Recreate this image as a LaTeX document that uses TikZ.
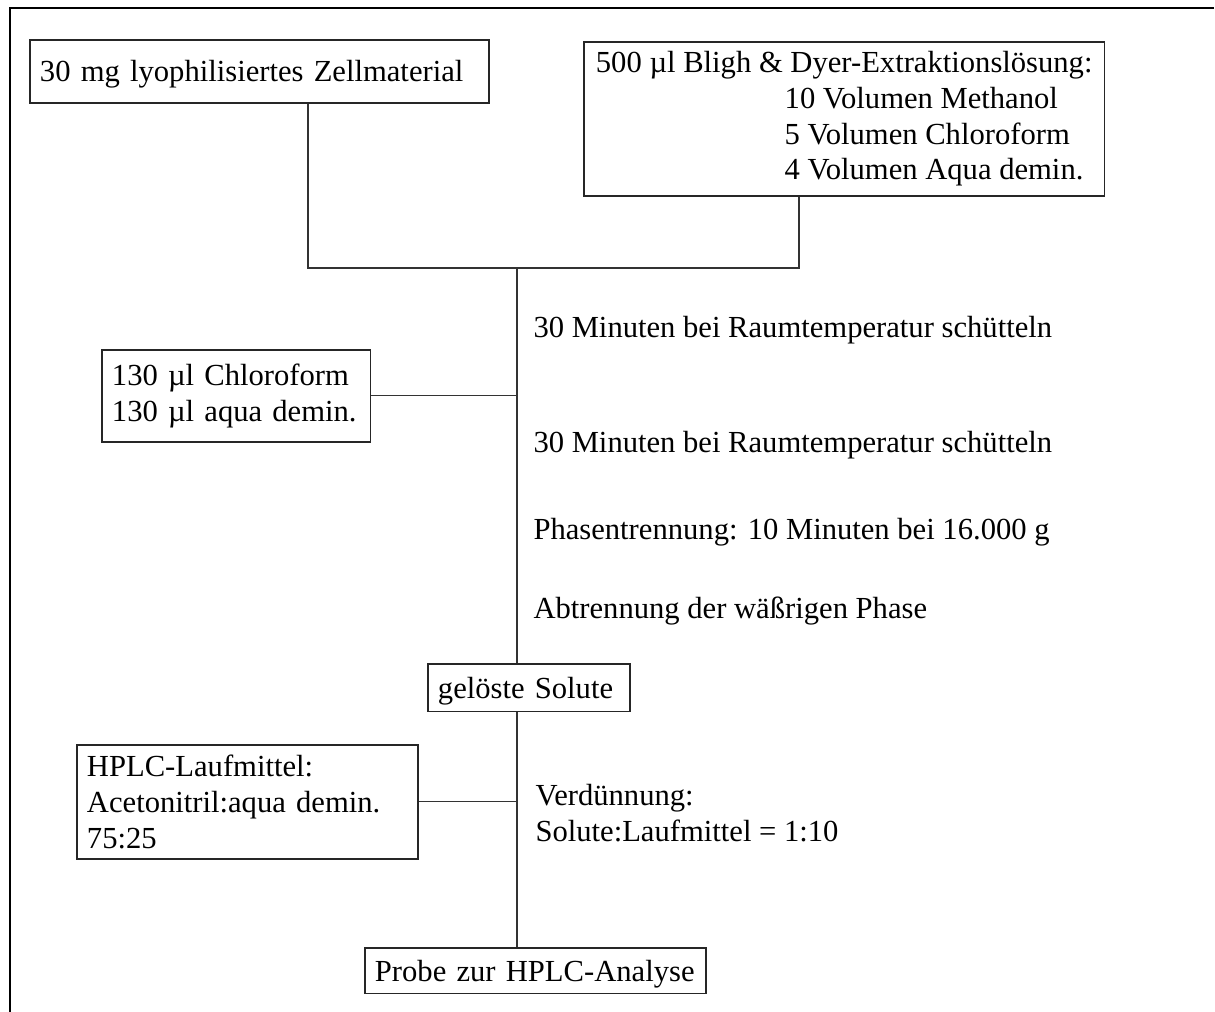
\documentclass[tikz,border=0pt]{standalone}
\usepackage{fontspec}
\setmainfont{Liberation Serif}
\begin{document}
\begin{tikzpicture}[x=0.392pt, y=-0.392pt]\tikzstyle{every node}=[font=\fontsize{12}{14}\selectfont]
\tikzstyle{kasten}=[draw=black!85, line width=0.6pt, anchor=north west, align=left, inner xsep=4pt, inner ysep=2pt]
\tikzstyle{zeile}=[kasten, text depth=0pt]
\tikzstyle{linie}=[draw=black!80, line width=0.45pt]
\tikzstyle{schritt}=[anchor=base west, align=left, inner sep=0pt]
\useasboundingbox (0,0) rectangle (1215,1012);
% Rahmen
  \draw[line width=1pt] (1214,8) -- (10,8) -- (10,1012);
% Zellmaterial
  \node[zeile, text width=172pt, minimum height=24.7pt] (zell) at (29,39)%
{%
  30 mg lyophilisiertes Zellmaterial
};
% Extraktionsloesung
  \node[kasten, minimum width=204.2pt, minimum height=60.4pt] (bligh) at (583,41)%
{%
  500 µl Bligh \& Dyer-Extraktionslösung: \\
  \hspace*{74pt}10 Volumen Methanol \\
  \hspace*{74pt}5 Volumen Chloroform \\
  \hspace*{74pt}4 Volumen Aqua demin.
};
% Chloroform / Wasser
  \node[kasten, text width=97.4pt, minimum height=36.1pt] (chloro) at (101,349)%
{%
  130 µl Chloroform \\
  130 µl aqua demin.
};
% Solute
  \node[zeile, text width=71.2pt, minimum height=18.8pt] (solute) at (427,663)%
{%
  gelöste Solute
};
% Laufmittel
  \node[kasten, text width=125.7pt, minimum height=44.7pt] (laufmittel) at (76,744)%
{%
  HPLC-Laufmittel: \\
  Acetonitril:aqua demin. \\
  75:25
};
% Probe
  \node[zeile, text width=125.7pt, minimum height=18pt] (probe) at (364,947)%
{%
  Probe zur HPLC-Analyse
};
% Schritte
  \node[schritt] (schuetteln1) at (533,337) {30 Minuten bei Raumtemperatur schütteln};
  \node[schritt] (schuetteln2) at (533,452) {30 Minuten bei Raumtemperatur schütteln};
  \node[schritt] (phasen) at (533,539) {Phasentrennung: 10 Minuten bei 16.000 g};
  \node[schritt] (abtrennung) at (533,618) {Abtrennung der wäßrigen Phase};
  \node[schritt] (verduennung) at (535,841) {Verdünnung: \\ Solute:Laufmittel = 1:10};
% Verbindungen
  \coordinate (zellBein) at (308,268);
  \coordinate (blighBein) at (799,268);
  \coordinate (mitte) at (517,268);
  \draw[linie] (zell.south -| zellBein) -- (zellBein) -- (blighBein) -- (bligh.south -| blighBein);
  \draw[linie] (mitte) -- (solute.north -| mitte);
  \draw[linie] (chloro.east) -- (chloro.east -| mitte);
  \draw[linie] (solute.south -| mitte) -- (probe.north -| mitte);
  \draw[linie] (laufmittel.east) -- (laufmittel.east -| mitte);
\end{tikzpicture}
\end{document}
